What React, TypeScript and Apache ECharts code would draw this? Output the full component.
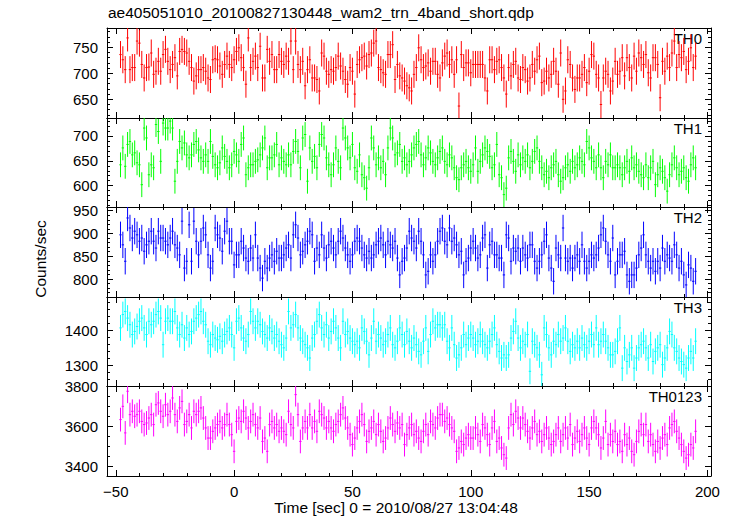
import React, { useEffect, useRef } from "react";
import * as echarts from "echarts";

// Time bins: 1 s bins starting at t = -48 s
const TIME_START = -48;
const BIN_WIDTH = 1;

const th0 = [
  736,726,707,768,707,711,711,762,758,717, 691,711,712,739,698,704,723,704,736,746,
  723,707,717,730,695,742,746,742,739,723, 711,685,695,707,707,711,704,691,688,726,
  728,726,714,698,717,733,717,711,726,742, 749,730,711,679,768,711,723,733,711,752,
  691,691,746,723,736,707,707,736,723,717, 733,723,762,707,762,717,707,723,676,707,
  726,
  691,691,688,666,739,733,704,698,707,704, 711,733,714,704,688,679,711,704,660,717,
  726,730,733,714,736,739,758,762,711,707, 701,698,736,736,755,688,717,695,691,685,
  676,672,666,698,711,749,726,711,714,720, 704,723,723,698,691,720,733,739,717,726,
  698,726,637,736,711,720,720,701,717,717, 717,717,717,691,666,726,726,707,723,726,
  711,691,660,
  711,695,717,723,691,688,711,707,685,691, 717,704,726,733,682,685,704,691,698,723,
  704,679,739,650,666,726,717,691,669,691, 691,698,711,682,704,736,733,698,691,640,
  691,704,698,666,685,723,698,704,730,695, 730,711,691,733,704,739,730,717,736,701,
  691,730,730,717,653,723,704,733,711,739, 762,711,736,730,742,707,723,749,711,733,
];
const th1 = [
  642,676,639,683,689,662,666,646,642,602, 716,696,622,642,636,723,709,649,726,716,
  716,730,716,609,649,689,676,686,662,656, 662,683,689,672,656,649,662,649,689,659,
  642,636,646,676,659,649,636,642,669,662, 649,683,696,622,636,642,642,649,652,662,
  676,696,636,656,656,662,683,642,656,649, 642,662,642,669,689,669,636,696,703,609,
  676,
  649,659,636,683,703,696,656,642,622,642, 676,649,636,716,696,676,656,683,636,629,
  662,622,616,595,636,696,676,642,656,636, 649,622,676,716,696,662,666,683,649,656,
  642,649,662,676,683,689,662,642,656,676, 666,649,642,656,669,676,649,642,662,656,
  636,616,612,636,642,649,636,629,642,676, 629,649,662,676,669,659,636,642,683,622,
  616,582,595,
  656,669,649,629,662,642,656,649,662,636, 649,669,676,649,636,622,629,616,636,642,
  649,622,609,616,636,642,629,649,636,642, 656,649,642,689,676,656,649,636,662,636,
  616,649,642,662,636,636,642,636,622,636, 649,629,656,636,642,629,622,616,642,616,
  636,649,602,622,636,629,616,589,622,642, 656,636,622,629,636,616,609,642,656,636,
];
const th2 = [
  897,875,839,934,912,890,905,897,883,890, 861,875,883,905,883,868,905,890,890,883,
  875,890,905,875,868,853,927,824,839,919, 839,927,883,853,883,912,897,853,824,839,
  912,897,890,861,905,927,883,883,831,853, 853,883,868,846,839,868,846,897,846,824,
  802,839,824,846,853,839,861,846,846,853, 868,875,846,897,919,890,853,861,875,883,
  905,
  897,839,868,853,897,868,846,875,883,868, 853,883,905,890,868,853,839,853,883,890,
  883,868,853,846,861,846,853,875,883,890, 875,853,883,875,868,883,846,809,839,846,
  868,905,890,883,868,905,883,853,809,817, 853,839,853,883,905,912,883,875,912,883,
  890,875,853,861,809,839,846,868,883,868, 846,853,890,897,824,875,883,853,853,846,
  846,809,897,
  890,839,868,861,868,839,868,853,846,875, 875,839,824,839,853,883,897,846,824,795,
  868,853,846,912,846,839,846,824,846,853, 839,875,839,824,839,853,846,853,868,897,
  912,883,853,839,890,809,839,853,853,861, 809,795,809,809,824,853,868,897,853,839,
  824,839,817,839,824,868,839,853,846,839, 875,853,824,839,809,787,831,824,795,817,
];
const th3 = [
  1406,1444,1453,1434,1415,1387,1396,1410,1425,1434, 1406,1387,1425,1415,1425,1444,1453,1434,1358,1425,
  1434,1425,1425,1453,1406,1387,1415,1377,1406,1387, 1396,1425,1434,1444,1453,1425,1415,1368,1358,1387,
  1377,1372,1382,1368,1387,1396,1406,1387,1349,1425, 1434,1406,1377,1368,1387,1453,1425,1406,1425,1415,
  1396,1387,1377,1406,1396,1377,1387,1368,1358,1349, 1377,1453,1406,1415,1444,1406,1377,1368,1358,1349,
  1320,
  1377,1387,1425,1444,1406,1387,1415,1377,1396,1425, 1406,1377,1349,1425,1387,1396,1377,1368,1358,1368,
  1349,1406,1396,1368,1329,1377,1425,1368,1387,1377, 1358,1368,1387,1406,1358,1349,1368,1406,1387,1358,
  1396,1368,1349,1377,1358,1339,1329,1368,1406,1339, 1387,1425,1406,1415,1415,1406,1415,1368,1349,1406,
  1358,1320,1329,1349,1387,1358,1377,1387,1377,1358, 1368,1387,1368,1358,1349,1368,1387,1406,1358,1339,
  1320,1329,1320,
  1329,1377,1396,1425,1377,1349,1368,1358,1387,1282, 1368,1358,1349,1329,1272,1406,1387,1349,1329,1368,
  1358,1387,1368,1377,1406,1368,1339,1358,1349,1368, 1349,1377,1358,1349,1368,1387,1358,1406,1358,1368,
  1387,1368,1349,1329,1329,1339,1368,1406,1291,1349, 1310,1329,1349,1291,1320,1349,1358,1368,1349,1320,
  1358,1310,1339,1349,1358,1301,1320,1349,1396,1387, 1349,1339,1320,1310,1301,1291,1320,1339,1320,1368,
];
const th0123 = [
  3634,3701,3567,3777,3659,3676,3651,3659,3676,3625, 3609,3617,3642,3659,3609,3709,3718,3676,3651,3709,
  3659,3676,3743,3659,3625,3693,3726,3609,3625,3659, 3592,3676,3659,3676,3693,3642,3592,3541,3541,3575,
  3592,3609,3625,3592,3609,3659,3609,3558,3474,3625, 3642,3625,3676,3642,3592,3625,3659,3609,3592,3642,
  3524,3541,3474,3609,3625,3592,3609,3575,3592,3575, 3558,3676,3609,3592,3760,3659,3524,3592,3625,3592,
  3659,
  3592,3625,3575,3676,3659,3642,3592,3625,3592,3575, 3609,3625,3659,3693,3642,3592,3558,3508,3541,3592,
  3625,3659,3609,3524,3575,3592,3625,3558,3609,3575, 3524,3541,3592,3642,3609,3575,3617,3592,3609,3508,
  3558,3592,3609,3558,3575,3541,3524,3575,3609,3558, 3625,3609,3592,3642,3659,3659,3625,3642,3609,3592,
  3575,3474,3491,3524,3508,3541,3558,3541,3541,3592, 3558,3524,3609,3592,3558,3508,3592,3625,3524,3541,
  3491,3457,3440,
  3592,3659,3609,3676,3642,3592,3642,3609,3575,3541, 3592,3625,3558,3575,3524,3558,3592,3541,3508,3524,
  3558,3592,3524,3558,3592,3541,3609,3508,3541,3575, 3524,3558,3592,3541,3508,3592,3625,3592,3558,3491,
  3541,3625,3508,3558,3524,3575,3508,3524,3474,3558, 3508,3541,3474,3457,3524,3575,3609,3558,3609,3524,
  3558,3508,3474,3524,3491,3541,3558,3508,3592,3609, 3625,3575,3541,3508,3474,3440,3457,3508,3491,3575,
];

// Per-band 1-sigma errors (counts/sec)
const th0Err = 26;
const th1Err = 25;
const th2Err = 29;
const th3Err = 37;
const th0123Err = 60;

const bandNames = ["TH0", "TH1", "TH2", "TH3", "TH0123"];

// Tick labels
const xMajorTicks = [-50, 0, 50, 100, 150, 200];
const xMinorTicks = [-50,-40,-30,-20,-10,0,10,20,30,40,50,60,70,80,90,100,110,120,130,140,150,160,170,180,190,200];
const th0Ticks = [650, 700, 750];
const th0Minor = [620,630,640,650,660,670,680,690,700,710,720,730,740,750,760,770,780];
const th1Ticks = [600, 650, 700];
const th1Minor = [560,570,580,590,600,610,620,630,640,650,660,670,680,690,700,710,720,730];
const th2Ticks = [800, 850, 900, 950];
const th2Minor = [770,780,790,800,810,820,830,840,850,860,870,880,890,900,910,920,930,940,950];
const th3Ticks = [1300, 1400];
const th3Minor = [1260,1280,1300,1320,1340,1360,1380,1400,1420,1440,1460,1480];
const th0123Ticks = [3400, 3600, 3800];
const th0123Minor = [3400,3450,3500,3550,3600,3650,3700,3750,3800];

const titleText = "ae405051010_20100827130448_wam2_trn_4band_short.qdp";
const xTitle = "Time [sec] 0 = 2010/08/27 13:04:48";
const yTitle = "Counts/sec";

const FONT = '"Liberation Sans", Arial, Helvetica, sans-serif';

const panels = [
  { name: bandNames[0], values: th0, err: th0Err, color: "#ff0000", min: 614, max: 787.1, ticks: th0Ticks, minor: th0Minor },
  { name: bandNames[1], values: th1, err: th1Err, color: "#00ff00", min: 557.1, max: 736.2, ticks: th1Ticks, minor: th1Minor },
  { name: bandNames[2], values: th2, err: th2Err, color: "#0000ff", min: 760.5, max: 958.1, ticks: th2Ticks, minor: th2Minor },
  { name: bandNames[3], values: th3, err: th3Err, color: "#00ffff", min: 1240, max: 1494.3, ticks: th3Ticks, minor: th3Minor },
  { name: bandNames[4], values: th0123, err: th0123Err, color: "#ff00ff", min: 3349.6, max: 3803.5, ticks: th0123Ticks, minor: th0123Minor },
];

const GRID_TOPS = [28, 118, 207, 297, 386];
const GRID_BOTTOM = 476;
const X_MIN = -53.7;
const X_MAX = 201.5;

function fmtX(v: number) {
  return v < 0 ? "\u2212" + Math.abs(v) : String(v);
}
function fmtY(v: number) {
  return String(v);
}

export default function App() {
  const ref = useRef<HTMLDivElement>(null);
  useEffect(() => {
    if (!ref.current) return;
    const chart = echarts.init(ref.current, null, { renderer: "svg" });
    const grids: any[] = [];
    const xAxes: any[] = [];
    const yAxes: any[] = [];
    const series: any[] = [];
    const graphics: any[] = [];

    panels.forEach((p, i) => {
      const top = GRID_TOPS[i];
      const bottom = i < 4 ? GRID_TOPS[i + 1] : GRID_BOTTOM;
      grids.push({ left: 107, width: 604, top, height: bottom - top, containLabel: false });
      const last = i === panels.length - 1;
      const xBase = {
        type: "value", gridIndex: i, min: X_MIN, max: X_MAX,
        splitLine: { show: false },
        axisLine: { show: true, onZero: false, lineStyle: { color: "#000", width: 1 } },
        axisLabel: { show: false },
      };
      const hiddenLine = { show: false, onZero: false };
      const majorTick = { show: true, inside: true, length: 6, lineStyle: { color: "#000", width: 1 }, customValues: xMajorTicks };
      const minorTick = { show: true, inside: true, length: 3, lineStyle: { color: "#000", width: 1 }, customValues: xMinorTicks };
      const xIdx = xAxes.length;
      xAxes.push({
        ...xBase, position: "bottom", axisTick: majorTick,
        axisLabel: last
          ? { show: true, customValues: xMajorTicks, formatter: fmtX, color: "#000", fontSize: 15, fontFamily: FONT, margin: 8 }
          : { show: false },
      });
      xAxes.push({ ...xBase, position: "top", axisTick: majorTick });
      xAxes.push({ ...xBase, position: "bottom", axisLine: hiddenLine, axisTick: minorTick });
      xAxes.push({ ...xBase, position: "top", axisLine: hiddenLine, axisTick: minorTick });

      const yBase = {
        type: "value", gridIndex: i, min: p.min, max: p.max,
        splitLine: { show: false },
        axisLine: { show: true, onZero: false, lineStyle: { color: "#000", width: 1 } },
        axisLabel: { show: false },
      };
      const yMajor = { show: true, inside: true, length: 6, lineStyle: { color: "#000", width: 1 }, customValues: p.ticks };
      const yMinor = { show: true, inside: true, length: 3, lineStyle: { color: "#000", width: 1 }, customValues: p.minor };
      const yIdx = yAxes.length;
      yAxes.push({
        ...yBase, position: "left", axisTick: yMajor,
        axisLabel: { show: true, customValues: p.ticks, formatter: fmtY, color: "#000", fontSize: 15, fontFamily: FONT, margin: 9 },
      });
      yAxes.push({ ...yBase, position: "right", axisTick: yMajor });
      yAxes.push({ ...yBase, position: "left", axisLine: hiddenLine, axisTick: yMinor });
      yAxes.push({ ...yBase, position: "right", axisLine: hiddenLine, axisTick: yMinor });

      const color = p.color;
      const err = p.err;
      series.push({
        type: "custom",
        name: p.name,
        xAxisIndex: xIdx,
        yAxisIndex: yIdx,
        clip: true,
        silent: true,
        data: p.values.map((v, k) => [TIME_START + k * BIN_WIDTH, v]),
        renderItem: (params: any, api: any) => {
          const t = api.value(0);
          const v = api.value(1);
          const a = api.coord([t - BIN_WIDTH / 2, v]);
          const b = api.coord([t + BIN_WIDTH / 2, v]);
          const c = api.coord([t, v + err]);
          const d = api.coord([t, v - err]);
          return {
            type: "group",
            children: [
              { type: "line", shape: { x1: a[0], y1: a[1], x2: b[0], y2: b[1] }, style: { stroke: color, lineWidth: 1 } },
              { type: "line", shape: { x1: c[0], y1: c[1], x2: d[0], y2: d[1] }, style: { stroke: color, lineWidth: 1 } },
            ],
          };
        },
      });

      graphics.push({
        type: "text", x: 702, y: top + 10,
        style: { text: p.name, fill: "#000", font: `15px ${FONT}`, textAlign: "right", textVerticalAlign: "middle" },
      });
    });

    graphics.push({
      type: "text", x: 108, y: 12,
      style: { text: titleText, fill: "#000", font: `15.5px ${FONT}`, textAlign: "left", textVerticalAlign: "middle" },
    });
    graphics.push({
      type: "text", x: 396, y: 507,
      style: { text: xTitle, fill: "#000", font: `15.5px ${FONT}`, textAlign: "center", textVerticalAlign: "middle" },
    });
    graphics.push({
      type: "text", x: 40, y: 259, rotation: Math.PI / 2,
      style: { text: yTitle, fill: "#000", font: `15.5px ${FONT}`, textAlign: "center", textVerticalAlign: "middle" },
    });

    chart.setOption({
      animation: false,
      backgroundColor: "#fff",
      grid: grids,
      xAxis: xAxes,
      yAxis: yAxes,
      series,
      graphic: graphics,
    });
    return () => chart.dispose();
  }, []);
  return <div ref={ref} style={{ position: "fixed", left: 0, top: 0, width: 734, height: 516 }} />;
}
